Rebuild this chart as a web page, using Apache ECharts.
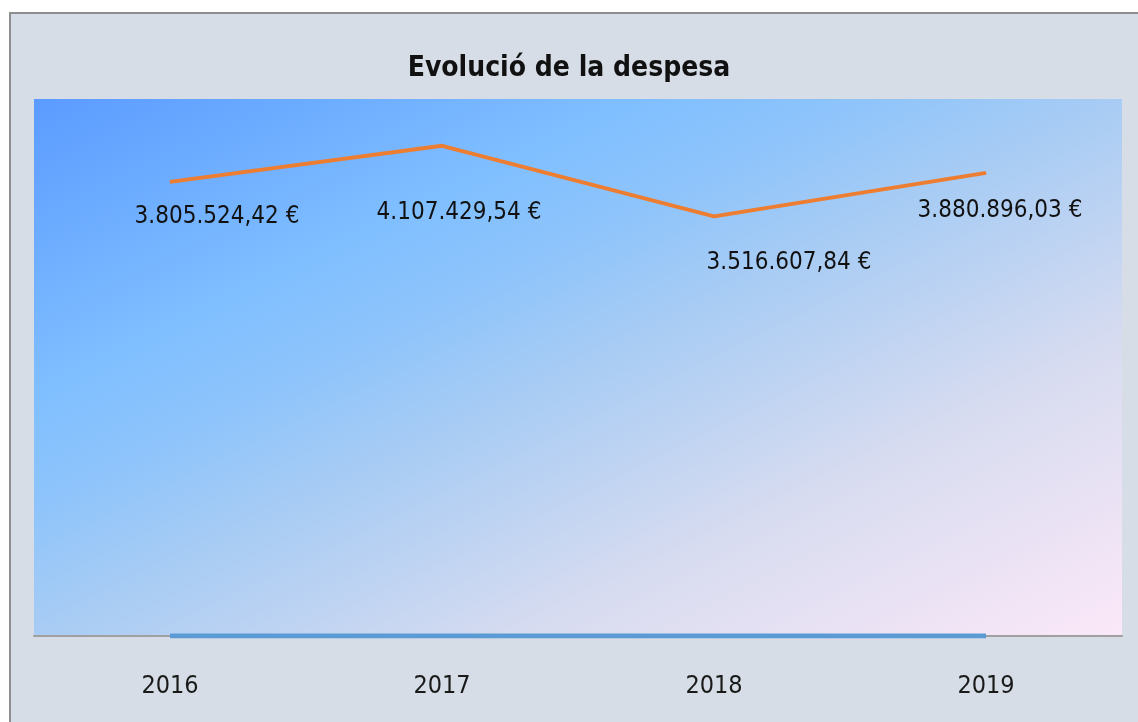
<!DOCTYPE html>
<html>
<head>
<meta charset="utf-8">
<title>Evolució de la despesa</title>
<script src="https://cdn.jsdelivr.net/npm/echarts@6/dist/echarts.min.js"></script>
<style>
    html, body { margin: 0; padding: 0; background: #ffffff; }
    #chart { width: 1138px; height: 722px; }
</style>
</head>
<body>
<div id="chart"></div>
<script>
// dades del gràfic
var years = ['2016', '2017', '2018', '2019'];
var despesa = [3805524.42, 4107429.54, 3516607.84, 3880896.03];
var baseLine = [0, 0, 0, 0];

var Despesa = {};
Despesa.chart = {
    // desplaçament de cada etiqueta respecte al punt
    labelOffsets: [[47, 35], [17, 67], [75, 46], [14, 38]],

    formatEuro: function (v) {
        var parts = v.toFixed(2).split('.');
        var ent = parts[0].replace(/\B(?=(\d{3})+(?!\d))/g, '.');
        return ent + ',' + parts[1] + ' €';
    },

    draw: function () {
        var self = this;
        var myChart = echarts.init(document.getElementById('chart'));
        var fontNarrow = '"Liberation Sans Narrow", "DejaVu Sans Condensed", sans-serif';

        var items = despesa.map(function (v, i) {
            return {
                value: v,
                label: { offset: self.labelOffsets[i] }
            };
        });

        var option = {
            backgroundColor: '#ffffff',
            animation: false,
            graphic: [{
                type: 'rect',
                z: -10,
                shape: { x: 10, y: 13, width: 1140, height: 720 },
                style: { fill: '#d6dde6', stroke: '#8e8e8e', lineWidth: 2 }
            }],
            title: {
                text: 'Evolució de la despesa',
                left: 'center',
                top: 50,
                textStyle: {
                    fontFamily: fontNarrow,
                    fontWeight: 'bold',
                    fontSize: 28,
                    color: '#111111'
                }
            },
            grid: {
                left: 34,
                right: 16,
                top: 99,
                bottom: 86,
                show: true,
                borderWidth: 0,
                // degradat diagonal de cantonada a cantonada
                backgroundColor: new echarts.graphic.LinearGradient(0, 0, 0.392, 1.608, [
                    { offset: 0, color: '#5b9bff' },
                    { offset: 0.28, color: '#80bfff' },
                    { offset: 0.38, color: '#8ec4fb' },
                    { offset: 0.5, color: '#a8ccf4' },
                    { offset: 0.73, color: '#d8dcf0' },
                    { offset: 1, color: '#fbe8f8' }
                ])
            },
            xAxis: {
                type: 'category',
                data: years,
                boundaryGap: true,
                axisTick: { show: false },
                axisLine: { lineStyle: { color: '#a0a0a0', width: 2 } },
                axisLabel: {
                    margin: 38,
                    fontFamily: fontNarrow,
                    fontSize: 25,
                    color: '#1a1a1a'
                }
            },
            yAxis: {
                type: 'value',
                min: 0,
                max: 4500000,
                show: false,
                splitLine: { show: false }
            },
            series: [{
                name: 'base',
                type: 'line',
                data: baseLine,
                symbol: 'none',
                lineStyle: { color: '#5b9bd5', width: 5 },
                z: 3
            }, {
                name: 'Despesa',
                type: 'line',
                data: items,
                symbol: 'circle',
                symbolSize: 1,
                itemStyle: { color: '#ed7d31' },
                lineStyle: { color: '#ed7d31', width: 4 },
                label: {
                    show: true,
                    position: 'inside',
                    fontFamily: fontNarrow,
                    fontSize: 24,
                    color: '#111111',
                    formatter: function (p) {
                        return self.formatEuro(p.value);
                    }
                },
                z: 4
            }]
        };
        myChart.setOption(option);
    }
};

Despesa.chart.draw();
</script>
</body>
</html>
